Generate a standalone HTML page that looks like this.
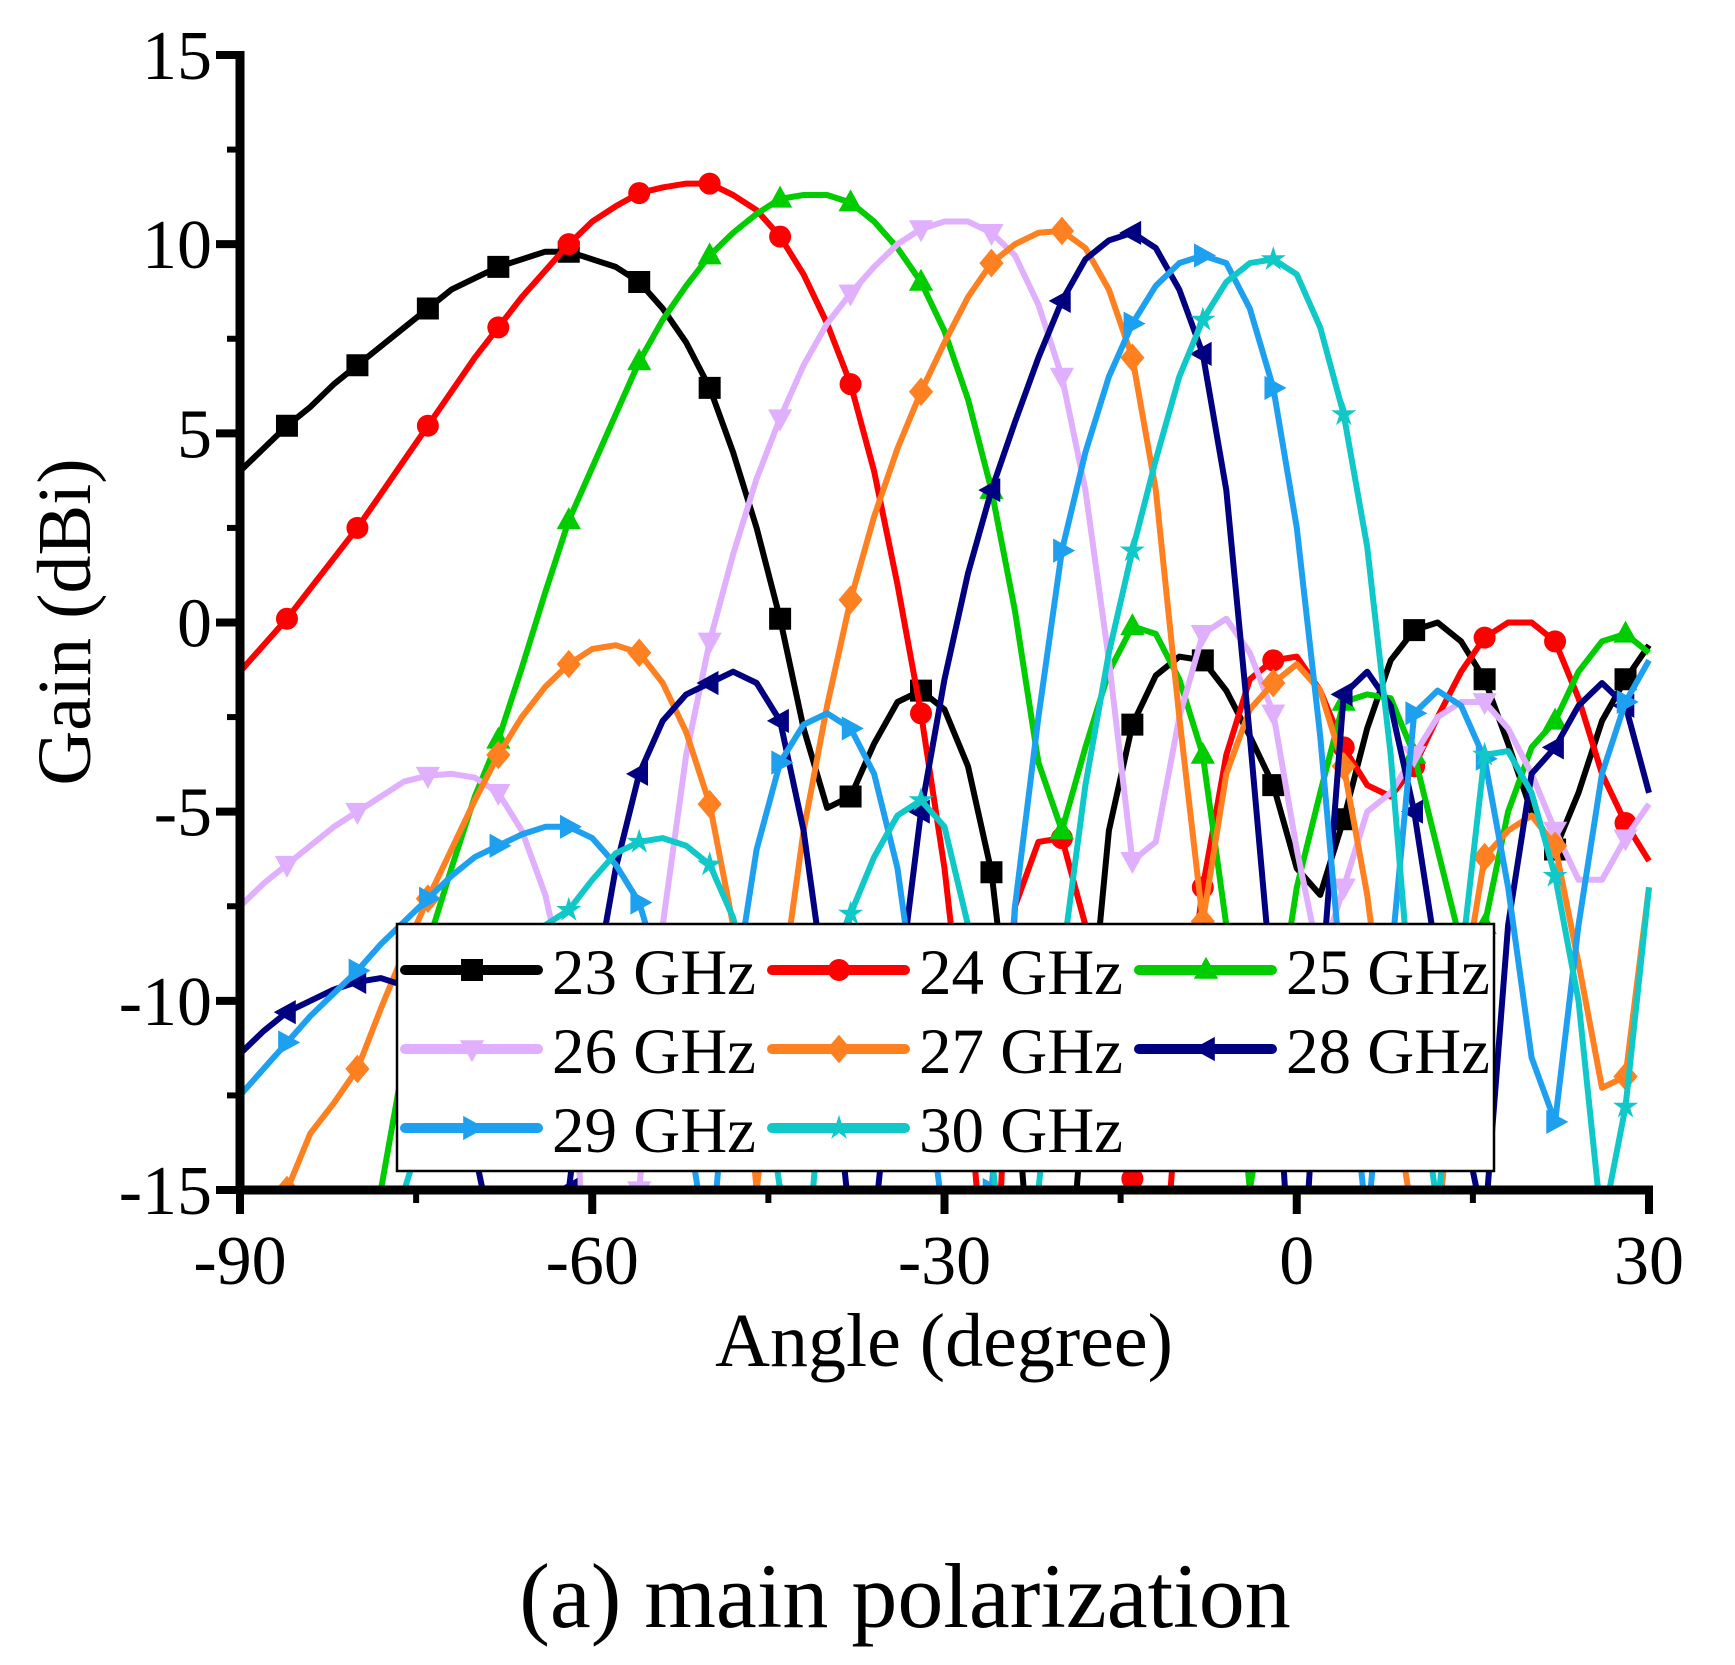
<!DOCTYPE html>
<html><head><meta charset="utf-8"><style>
html,body{margin:0;padding:0;background:#fff;}
svg{display:block;font-family:"Liberation Serif",serif;}
</style></head><body>
<svg id="chart" width="1735" height="1665" viewBox="0 0 1735 1665">
<defs><clipPath id="plotclip"><rect x="240" y="0" width="1420" height="1190"/></clipPath></defs>
<g id="series" clip-path="url(#plotclip)"></g>
<g id="axes"></g>
<g id="legend"></g>
<text x="90" y="622" font-size="76" text-anchor="middle" transform="rotate(-90 90 622)">Gain (dBi)</text>
<text x="944" y="1366" font-size="76" text-anchor="middle">Angle (degree)</text>
<text x="905" y="1627" font-size="92" text-anchor="middle">(a) main polarization</text>
</svg>
<script>
const angles=[];for(let a=-90;a<=30;a+=2)angles.push(a);
const xTicks=[-90,-60,-30,0,30];
const yTicks=[15,10,5,0,-5,-10,-15];
const seriesNames=["23 GHz","24 GHz","25 GHz","26 GHz","27 GHz","28 GHz","29 GHz","30 GHz"];
const g23=[4.0,4.6,5.2,5.7,6.3,6.8,7.3,7.8,8.3,8.8,9.1,9.4,9.6,9.8,9.8,9.6,9.4,9.0,8.3,7.4,6.2,4.5,2.5,0.1,-2.8,-4.9,-4.6,-3.2,-2.1,-1.8,-2.3,-3.8,-6.6,-12,-20,-20,-12,-5.5,-2.7,-1.4,-0.9,-1.0,-1.8,-3.0,-4.3,-6.5,-7.2,-5.2,-2.8,-1.0,-0.2,0.0,-0.5,-1.5,-3.2,-5.0,-6.0,-4.5,-2.6,-1.5,-0.6];
const g24=[-1.3,-0.6,0.1,0.9,1.7,2.5,3.4,4.3,5.2,6.1,7.0,7.8,8.6,9.3,10.0,10.6,11.0,11.35,11.5,11.6,11.6,11.3,10.9,10.2,9.2,7.9,6.3,4.0,1.0,-2.4,-6.5,-12,-20,-7.5,-5.8,-5.7,-8,-12,-14.7,-20,-12,-7,-3.5,-1.5,-1.0,-0.9,-1.8,-3.3,-4.3,-4.6,-3.8,-2.5,-1.3,-0.4,0.0,0.0,-0.5,-2.0,-4.0,-5.3,-6.3];
const g25=[-25,-25,-25,-25,-25,-20,-15,-11.5,-8.5,-6.5,-4.6,-3.1,-1.2,0.8,2.7,4.1,5.5,6.9,8.0,8.9,9.7,10.3,10.8,11.2,11.3,11.3,11.1,10.6,9.9,9.0,7.7,5.9,3.5,0.3,-3.7,-5.5,-3.3,-1.3,-0.1,-0.3,-1.5,-3.5,-8,-15,-11,-7,-4.5,-2.1,-1.9,-2.0,-3.5,-6,-8.5,-8,-5,-3.3,-2.6,-1.3,-0.5,-0.3,-0.8];
const g26=[-7.5,-6.9,-6.4,-5.9,-5.4,-5.0,-4.6,-4.2,-4.05,-4.0,-4.1,-4.5,-5.5,-7.2,-10,-20,-20,-15,-8,-3.5,-0.5,1.8,3.8,5.4,6.8,7.9,8.7,9.4,10.0,10.4,10.6,10.6,10.3,9.7,8.4,6.5,3.5,-1,-6.3,-5.8,-2.5,-0.3,0.1,-0.8,-2.4,-6,-9,-7,-5,-4.5,-3.5,-2.5,-2.1,-2.1,-2.8,-4.0,-5.5,-6.8,-6.8,-5.7,-4.8];
const g27=[-25,-20,-15,-13.5,-12.7,-11.8,-10.2,-8.7,-7.3,-6,-4.7,-3.5,-2.5,-1.7,-1.1,-0.7,-0.6,-0.8,-1.6,-2.9,-4.8,-8,-15,-10,-5.5,-2.2,0.6,2.8,4.6,6.1,7.4,8.6,9.5,10.0,10.3,10.35,9.9,8.8,7.0,3.5,-2.5,-7.9,-4.0,-2.3,-1.6,-1.1,-1.8,-3.8,-7.2,-12,-16,-16,-10,-6.2,-5.5,-5.1,-5.9,-9,-12.3,-12,-7];
const g28=[-11.4,-10.8,-10.3,-10.0,-9.7,-9.5,-9.4,-9.6,-10.5,-12,-14,-17,-20,-20,-15,-10,-6.5,-4,-2.6,-1.9,-1.6,-1.3,-1.6,-2.6,-5.5,-10,-16,-16,-10,-5,-1.5,1.3,3.5,5.3,7.0,8.5,9.6,10.1,10.3,9.9,8.8,7.1,3.5,-3,-10,-20,-10,-1.9,-1.3,-2.2,-5,-9,-13,-16,-8,-4,-3.3,-2.2,-1.6,-2.2,-4.5];
const g29=[-12.5,-11.8,-11.1,-10.4,-9.8,-9.2,-8.5,-7.9,-7.3,-6.7,-6.2,-5.9,-5.6,-5.4,-5.4,-5.7,-6.4,-7.4,-9.5,-13,-17,-10,-6,-3.7,-2.7,-2.4,-2.8,-4,-6.5,-11,-16,-20,-15,-7.5,-2.5,1.9,4.5,6.5,7.9,8.9,9.5,9.7,9.5,8.3,6.2,2.5,-3,-10,-16,-9,-2.4,-1.8,-2.2,-3.6,-7,-11.5,-13.2,-8,-4,-2.1,-1];
const g30=[-25,-25,-25,-25,-25,-25,-20,-15,-13,-11.5,-10.2,-9.2,-8.5,-8,-7.6,-6.8,-6.1,-5.8,-5.7,-5.9,-6.4,-7.8,-10.5,-15,-18,-10.5,-7.7,-6.2,-5.1,-4.7,-5.4,-8,-14,-20,-15,-9,-4.3,-0.8,1.9,4.3,6.5,8.0,9.0,9.5,9.6,9.2,7.8,5.5,2,-3.5,-11,-15.5,-9,-3.5,-3.4,-4.5,-6.7,-10,-16,-12.8,-7];
const allSeries=[g23,g24,g25,g26,g27,g28,g29,g30];
const colors=["#000000","#ff0000","#00cc00","#e0b0ff","#ff8020","#000080","#1ea0f0","#10c8c8"];
const shapes=["square","circle","up","down","diamond","left","right","star"];

const X0=240,X1=1649,Y0=55,Y1=1190;
const xs=a=>X0+(a+90)/120*(X1-X0);
const ys=v=>Y1-(v+15)/30*(Y1-Y0);
const NS="http://www.w3.org/2000/svg";
function mk(tag,attrs,parent){const e=document.createElementNS(NS,tag);for(const k in attrs)e.setAttribute(k,attrs[k]);parent.appendChild(e);return e;}
function markerPath(shape,x,y,r){
  switch(shape){
    case"square":return `M${x-r} ${y-r}h${2*r}v${2*r}h${-2*r}z`;
    case"circle":return `M${x-r} ${y}a${r} ${r} 0 1 0 ${2*r} 0a${r} ${r} 0 1 0 ${-2*r} 0z`;
    case"up":return `M${x} ${y-r*1.2}L${x+r*1.1} ${y+r*0.8}L${x-r*1.1} ${y+r*0.8}z`;
    case"down":return `M${x} ${y+r*1.2}L${x+r*1.1} ${y-r*0.8}L${x-r*1.1} ${y-r*0.8}z`;
    case"diamond":return `M${x} ${y-r*1.3}L${x+r*1.1} ${y}L${x} ${y+r*1.3}L${x-r*1.1} ${y}z`;
    case"left":return `M${x-r*1.2} ${y}L${x+r*0.8} ${y-r*1.1}L${x+r*0.8} ${y+r*1.1}z`;
    case"right":return `M${x+r*1.2} ${y}L${x-r*0.8} ${y-r*1.1}L${x-r*0.8} ${y+r*1.1}z`;
    case"star":{let d="";for(let i=0;i<10;i++){const rr=i%2?r*0.45:r*1.2;const t=-Math.PI/2+i*Math.PI/5;d+=(i?"L":"M")+(x+rr*Math.cos(t)).toFixed(1)+" "+(y+rr*Math.sin(t)).toFixed(1);}return d+"z";}
  }
}
const sg=document.getElementById("series");
allSeries.forEach((vals,si)=>{
  const grp=mk("g",{},sg);
  
  
  const pts=vals.map((v,i)=>xs(angles[i]).toFixed(1)+","+ys(v).toFixed(1)).join(" ");
  const pl=mk("polyline",{points:pts,fill:"none",stroke:colors[si],"stroke-width":6,"stroke-linejoin":"round"},grp);
  
  
  vals.forEach((v,i)=>{
    if(i%3!==2)return;
    const m=mk("path",{d:markerPath(shapes[si],xs(angles[i]),ys(v),11),fill:colors[si]},grp);
    
    
  });
});
const ax=document.getElementById("axes");
mk("line",{x1:X0,y1:Y0-4,x2:X0,y2:Y1+4,stroke:"#000","stroke-width":9},ax);
mk("line",{x1:X0-4,y1:Y1,x2:X1+4,y2:Y1,stroke:"#000","stroke-width":9},ax);
yTicks.forEach(v=>{
  mk("line",{x1:X0-24,y1:ys(v),x2:X0,y2:ys(v),stroke:"#000","stroke-width":8},ax);
  const t=mk("text",{x:X0-28,y:ys(v)+24,"font-size":70,"text-anchor":"end"},ax);
  t.textContent=String(v);
  
  
  if(v>-15)mk("line",{x1:X0-13,y1:ys(v-2.5),x2:X0,y2:ys(v-2.5),stroke:"#000","stroke-width":6},ax);
});
xTicks.forEach(a=>{
  mk("line",{x1:xs(a),y1:Y1,x2:xs(a),y2:Y1+24,stroke:"#000","stroke-width":8},ax);
  const t=mk("text",{x:xs(a),y:Y1+94,"font-size":70,"text-anchor":"middle"},ax);
  t.textContent=String(a);
  
  
  if(a<30)mk("line",{x1:xs(a+15),y1:Y1,x2:xs(a+15),y2:Y1+13,stroke:"#000","stroke-width":6},ax);
});
const lg=document.getElementById("legend");
mk("rect",{x:397,y:924,width:1097,height:247,fill:"#fff",stroke:"#000","stroke-width":2.5},lg);
const colX=[400,767,1134],rowY=[970,1049,1128];
seriesNames.forEach((n,i)=>{
  const cx=colX[i%3],cy=rowY[Math.floor(i/3)];
  const e=mk("g",{},lg);
  
  
  mk("line",{x1:cx+5,y1:cy,x2:cx+138,y2:cy,stroke:colors[i],"stroke-width":10,"stroke-linecap":"round"},e);
  mk("path",{d:markerPath(shapes[i],cx+72,cy,11),fill:colors[i]},e);
  const t=mk("text",{x:cx+152,y:cy+24,"font-size":65},e);
  t.textContent=n;
});
</script>
</body></html>
